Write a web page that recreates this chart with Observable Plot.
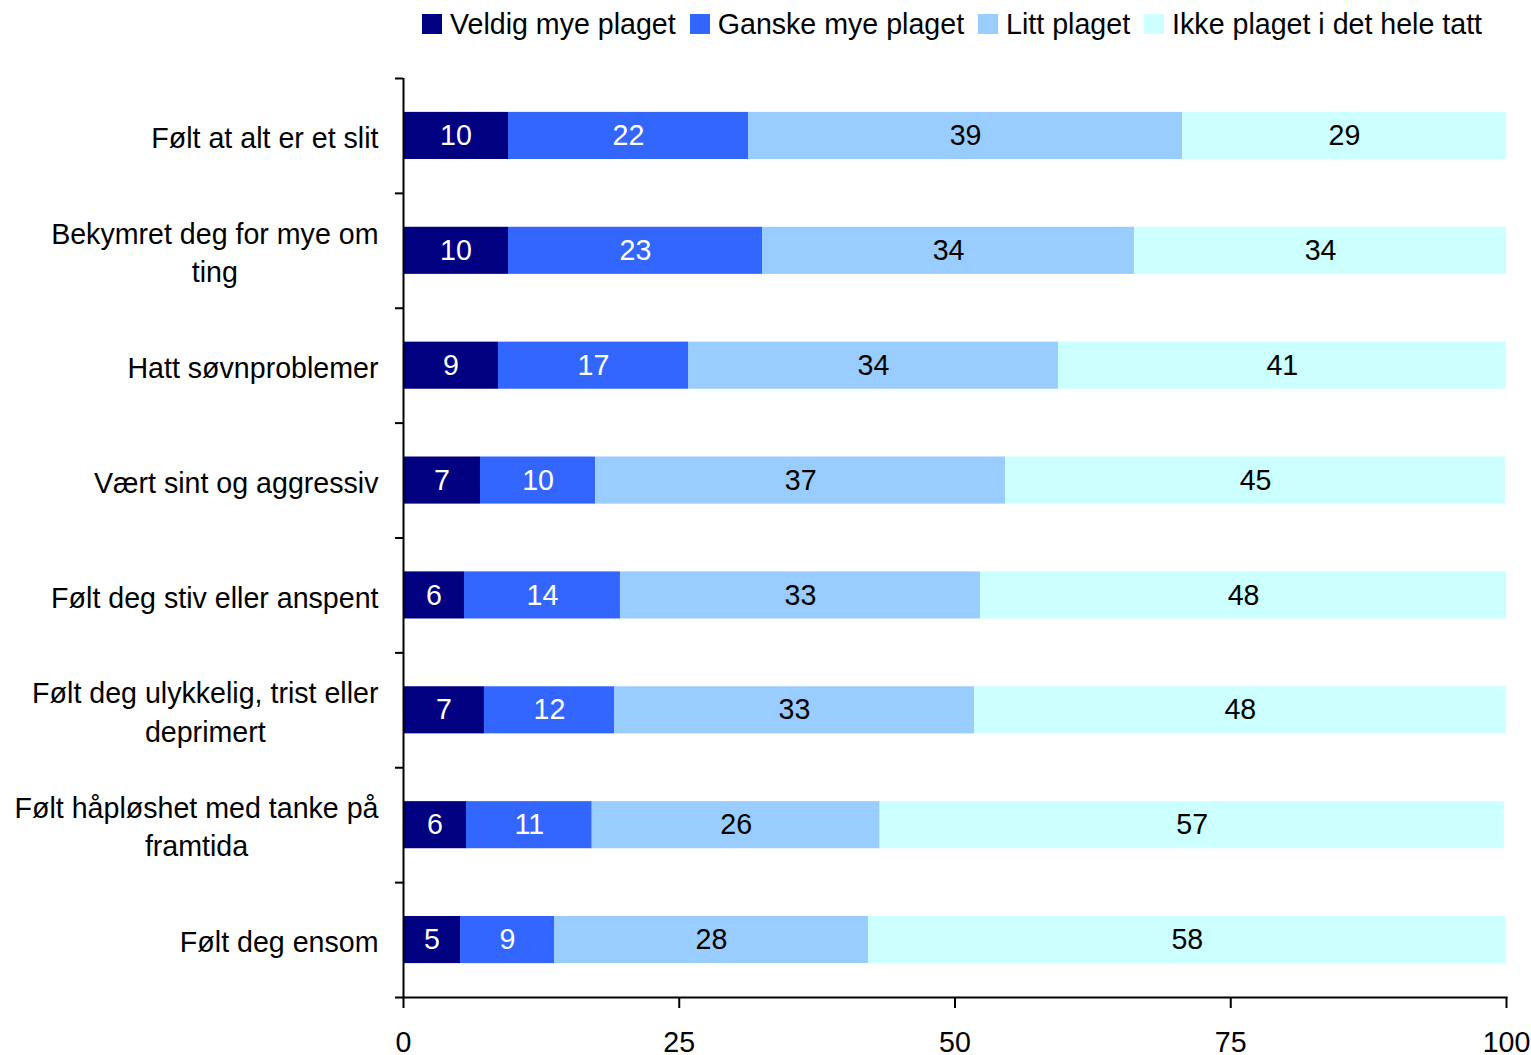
<!DOCTYPE html>
<html>
<head>
<meta charset="utf-8">
<script src="https://cdn.jsdelivr.net/npm/d3@7"></script>
<script src="https://cdn.jsdelivr.net/npm/@observablehq/plot@0.6"></script>
<style>
  html, body { margin: 0; padding: 0; background: #fff; }
  #wrap { position: relative; width: 1531px; height: 1055px; font-family: "Liberation Sans", Arial, sans-serif; }
  #legend { position: absolute; left: 422px; top: 8px; display: flex; align-items: center; font-size: 28.6px; line-height: 32px; color: #000; white-space: nowrap; }
  #legend .item { display: flex; align-items: center; margin-right: 14px; }
  #legend .sw { width: 20px; height: 20px; margin-right: 8px; }
  #chart { position: absolute; left: 0; top: 0; }
</style>
</head>
<body>
<div id="wrap">
  <div id="chart"></div>
  <div id="legend"></div>
</div>
<script>
const categories = [
  "Følt at alt er et slit",
  "Bekymret deg for mye om\nting",
  "Hatt søvnproblemer",
  "Vært sint og aggressiv",
  "Følt deg stiv eller anspent",
  "Følt deg ulykkelig, trist eller\ndeprimert",
  "Følt håpløshet med tanke på\nframtida",
  "Følt deg ensom"
];
const seriesNames = ["Veldig mye plaget", "Ganske mye plaget", "Litt plaget", "Ikke plaget i det hele tatt"];
const seriesColors = ["#000080", "#3366FF", "#99CCFF", "#CCFFFF"];
const labelColors = ["#ffffff", "#ffffff", "#000000", "#000000"];

const veldig = [9.52, 9.52, 8.61, 6.98, 5.53, 7.34, 5.71, 5.17];
const ganske = [21.76, 23.03, 17.23, 10.45, 14.14, 11.79, 11.4, 8.52];
const litt   = [39.35, 33.73, 33.54, 37.17, 32.64, 32.64, 26.1, 28.47];
const ikke   = [29.37, 33.73, 40.6, 45.3, 47.7, 48.2, 56.6, 57.8];
const xTicks = [0, 25, 50, 75, 100];

const seriesValues = [veldig, ganske, litt, ikke];
const data = [];
categories.forEach((c, i) => {
  seriesNames.forEach((s, j) => {
    data.push({category: c, series: s, value: seriesValues[j][i], si: j});
  });
});

const W = 1531, H = 1055;
const mTop = 78, mBottom = 58, mLeft = 403, mRight = 25;
const step = (H - mTop - mBottom) / categories.length;
const font = "Liberation Sans, Arial, sans-serif";
const fs = 28.6;

const chart = Plot.plot({
  width: W,
  height: H,
  marginTop: mTop,
  marginBottom: mBottom,
  marginLeft: mLeft,
  marginRight: mRight,
  style: {fontFamily: font, fontSize: fs + "px", color: "#000", background: "#fff", overflow: "visible"},
  x: {domain: [0, 100]},
  y: {domain: categories, paddingInner: 0.59, paddingOuter: 0.295, round: false},
  color: {domain: seriesNames, range: seriesColors},
  marks: [
    Plot.barX(data, Plot.stackX({x: "value", y: "category", fill: "series", order: null})),
    Plot.text(data, Plot.stackX({
      x: "value", y: "category", order: null,
      text: d => String(Math.round(d.value)),
      fill: d => labelColors[d.si],
      fontSize: fs
    })),
    Plot.ruleX([0], {stroke: "#000", strokeWidth: 2}),
    Plot.frame({anchor: "bottom", stroke: "#000", strokeWidth: 2}),
    Plot.axisY({tickSize: 0, tickPadding: 25, fontSize: fs, lineHeight: 1.33, label: null}),
    Plot.axisY({tickSize: 8, tickFormat: null, dy: -step / 2, strokeWidth: 2, label: null}),
    Plot.axisY({ticks: [categories[categories.length - 1]], tickSize: 8, tickFormat: null, dy: step / 2, strokeWidth: 2, label: null}),
    Plot.axisX({ticks: xTicks, tickSize: 11, tickPadding: 23, fontSize: fs, strokeWidth: 2, label: null})
  ]
});

document.getElementById("chart").append(chart);

// center multi-line category labels
chart.querySelectorAll('g[aria-label="y-axis tick label"] text').forEach(t => {
  const spans = t.querySelectorAll("tspan");
  if (spans.length > 1) {
    const widths = Array.from(spans, s => s.getComputedTextLength());
    const max = Math.max(...widths);
    spans.forEach((s, k) => s.setAttribute("x", -(max - widths[k]) / 2));
  }
});

const legend = d3.select("#legend");
seriesNames.forEach((s, j) => {
  const item = legend.append("div").attr("class", "item");
  item.append("div").attr("class", "sw").style("background", seriesColors[j]);
  item.append("span").text(s);
});
</script>
</body>
</html>
